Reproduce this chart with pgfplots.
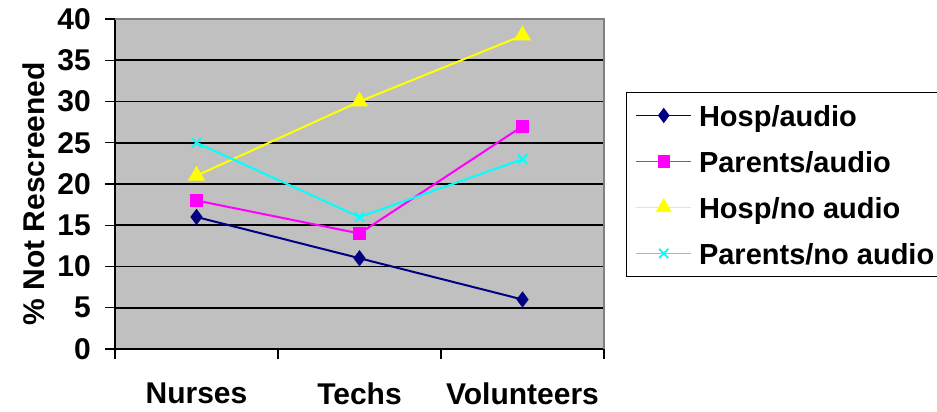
\documentclass[border=0pt]{standalone}
\usepackage{pgfplots}
\pgfplotsset{compat=1.18}
\usepackage{fontspec}
\setmainfont{Liberation Sans}

\definecolor{plotgray}{RGB}{192,192,192}
\definecolor{framegray}{RGB}{128,128,128}
\definecolor{hospaudio}{RGB}{0,0,128}
\definecolor{parentsaudio}{RGB}{255,0,255}
\definecolor{hospnoaudio}{RGB}{255,255,0}
\definecolor{parentsnoaudio}{RGB}{0,255,255}

\begin{document}
\begin{tikzpicture}
\begin{axis}[
  name=main,
  at={(0pt,0pt)}, anchor=south west,
  scale only axis, width=489pt, height=330pt,
  xmin=0, xmax=3, ymin=0, ymax=40,
  xtick={0,1,2,3},
  xticklabels={Nurses,Techs,Volunteers,{}},
  xticklabel style={anchor=north, inner sep=0pt, xshift=81.5pt, yshift=-24pt},
  ytick={0,5,...,40},
  yticklabel style={anchor=east, inner sep=0pt, xshift=-14pt},
  /pgf/number format/assume math mode=true,
  font=\bfseries\fontsize{30}{36}\selectfont,
  tick align=outside,
  major tick length=10pt,
  tick style={black, line width=1.4pt},
  axis x line*=bottom, axis y line*=left,
  axis line style={black, line width=1.6pt, -},
  axis background/.style={fill=plotgray},
  ymajorgrids,
  grid style={black, line width=1.6pt},
  ylabel={\% Not Rescreened},
  ylabel style={at={(axis description cs:-0.167,0.47)}, anchor=center, rotate=0},
  legend style={
    at={(axis description cs:1.045,0.779)}, anchor=north west,
    draw=black, line width=1pt, fill=white,
    font=\bfseries\fontsize{29}{35}\selectfont,
    row sep=20pt, column sep=5pt, inner xsep=9pt, inner ysep=10pt,
    nodes={inner sep=2pt, text height=22pt, text depth=0pt},
  },
  legend cell align=left,
  legend image code/.code={
    \draw[mark repeat=2, mark phase=2, line width=1.5pt, #1]
      plot coordinates {(0pt,0pt) (27.5pt,0pt) (55pt,0pt)};
  },
  every axis plot/.append style={line width=2pt},
]
% Hospital staff, with audio
\addplot[color=hospaudio, mark=diamond*, mark size=6.5pt,
  mark options={solid, fill=hospaudio}]
  coordinates {(0.5,16) (1.5,11) (2.5,6)};
\addlegendentry{Hosp/audio}
% Parents, with audio
\addplot[color=parentsaudio, mark=square*, mark size=5.5pt,
  mark options={solid, fill=parentsaudio}]
  coordinates {(0.5,18) (1.5,14) (2.5,27)};
\addlegendentry{Parents/audio}
% Hospital staff, no audio
\addplot[color=hospnoaudio, mark=triangle*, mark size=8pt,
  mark options={solid, fill=hospnoaudio}]
  coordinates {(0.5,21) (1.5,30) (2.5,38)};
\addlegendentry{Hosp/no audio}
% Parents, no audio
\addplot[color=parentsnoaudio, mark=x, mark size=6.5pt,
  mark options={solid, line width=2pt}]
  coordinates {(0.5,25) (1.5,16) (2.5,23)};
\addlegendentry{Parents/no audio}
\end{axis}
% plot-area frame on the top and right sides
\draw[framegray, line width=1.4pt] (main.north west) -- (main.north east) -- (main.south east);
\pgfresetboundingbox
\path[use as bounding box] (-115pt,-63pt) rectangle (822pt,349pt);
\end{tikzpicture}
\end{document}
